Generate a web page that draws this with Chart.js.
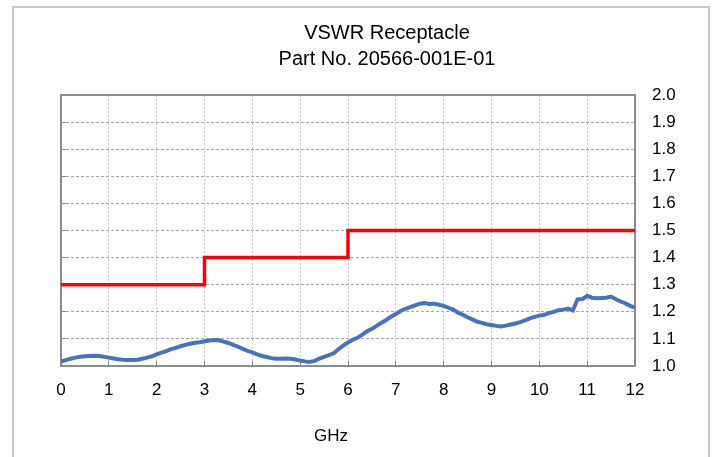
<!DOCTYPE html>
<html>
<head>
<meta charset="utf-8">
<title>VSWR Receptacle</title>
<script src="https://cdn.jsdelivr.net/npm/chart.js@4"></script>
<style>
    html, body { margin: 0; padding: 0; background: #fff; overflow: hidden; }
    #frame { position: absolute; left: 12px; top: 6px; width: 698px; height: 480px; border: 2px solid #c8c8c8; box-sizing: border-box; }
    #chart { position: absolute; left: 0; top: 0; }
</style>
</head>
<body>
<div id="frame"></div>
<canvas id="chart" width="713" height="457"></canvas>
<script>
// VSWR sweep of the receptacle
const freqGHz = [
    0.0, 0.1, 0.2, 0.3, 0.4, 0.5, 0.6, 0.7, 0.8, 0.9,
    1.0, 1.1, 1.2, 1.3, 1.4, 1.5, 1.6, 1.7, 1.8, 1.9,
    2.0, 2.1, 2.2, 2.3, 2.4, 2.5, 2.6, 2.7, 2.8, 2.9,
    3.0, 3.1, 3.2, 3.3, 3.4, 3.5, 3.6, 3.7, 3.8, 3.9,
    4.0, 4.1, 4.2, 4.3, 4.4, 4.5, 4.6, 4.7, 4.8, 4.9,
    5.0, 5.1, 5.2, 5.3, 5.4, 5.5, 5.6, 5.7, 5.8, 5.9,
    6.0, 6.1, 6.2, 6.3, 6.4, 6.5, 6.6, 6.7, 6.8, 6.9,
    7.0, 7.1, 7.2, 7.3, 7.4, 7.5, 7.6, 7.7, 7.8, 7.9,
    8.0, 8.1, 8.2, 8.3, 8.4, 8.5, 8.6, 8.7, 8.8, 8.9,
    9.0, 9.1, 9.2, 9.3, 9.4, 9.5, 9.6, 9.7, 9.8, 9.9,
    10.0, 10.1, 10.2, 10.3, 10.4, 10.5, 10.6, 10.7, 10.8, 10.9,
    11.0, 11.1, 11.2, 11.3, 11.4, 11.5, 11.6, 11.7, 11.8, 11.9,
    12.0
];
const vswrMeasured = [
    1.016, 1.022, 1.027, 1.031, 1.034, 1.036, 1.037, 1.038, 1.037, 1.034,
    1.031, 1.028, 1.025, 1.023, 1.022, 1.022, 1.023, 1.027, 1.031, 1.036,
    1.043, 1.049, 1.055, 1.062, 1.067, 1.073, 1.078, 1.082, 1.086, 1.088,
    1.091, 1.094, 1.096, 1.095, 1.090, 1.085, 1.078, 1.071, 1.063, 1.056,
    1.050, 1.043, 1.037, 1.033, 1.029, 1.027, 1.027, 1.028, 1.027, 1.024,
    1.020, 1.017, 1.015, 1.019, 1.027, 1.034, 1.040, 1.047, 1.062, 1.075,
    1.087, 1.097, 1.104, 1.116, 1.128, 1.137, 1.148, 1.160, 1.170, 1.182,
    1.192, 1.203, 1.211, 1.217, 1.224, 1.230, 1.232, 1.229, 1.230, 1.226,
    1.222, 1.215, 1.208, 1.197, 1.189, 1.180, 1.172, 1.164, 1.159, 1.154,
    1.151, 1.148, 1.146, 1.149, 1.153, 1.157, 1.162, 1.168, 1.176, 1.181,
    1.186, 1.189, 1.195, 1.200, 1.206, 1.208, 1.212, 1.205, 1.246, 1.247,
    1.259, 1.252, 1.250, 1.251, 1.252, 1.256, 1.246, 1.238, 1.231, 1.222,
    1.215
];

// spec limit, stepped
const limitFreq = [0, 3, 6, 12];
const limitVswr = [1.3, 1.4, 1.5, 1.5];

const titleLines = ['VSWR Receptacle', 'Part No. 20566-001E-01'];
const xLabel = 'GHz';
const xMin = 0, xMax = 12, xStep = 1;
const yMin = 1.0, yMax = 2.0, yStep = 0.1;

const FONT = "'Liberation Sans', Arial, sans-serif";

// x axis caption sits a bit left of the plot centre in the original
const xCaption = {
    id: 'xCaption',
    afterDraw(chart) {
        const { ctx, chartArea } = chart;
        ctx.save();
        ctx.font = '17px ' + FONT;
        ctx.fillStyle = '#000';
        ctx.textAlign = 'center';
        ctx.textBaseline = 'middle';
        ctx.fillText(xLabel, chartArea.left + 270, chartArea.bottom + 70);
        ctx.restore();
    }
};

function pts(xs, ys) {
    return xs.map((x, i) => ({ x: x, y: ys[i] }));
}

new Chart(document.getElementById('chart'), {
    type: 'line',
    data: {
        datasets: [
            {
                label: 'VSWR',
                data: pts(freqGHz, vswrMeasured),
                borderColor: '#4472c4',
                borderWidth: 4,
                pointRadius: 0,
                tension: 0
            },
            {
                label: 'Limit',
                data: pts(limitFreq, limitVswr),
                borderColor: '#ff0000',
                borderWidth: 3.5,
                pointRadius: 0,
                stepped: true
            }
        ]
    },
    plugins: [xCaption],
    options: {
        responsive: false,
        devicePixelRatio: 1,
        animation: false,
        layout: { padding: { left: 61, right: 0, top: 0, bottom: 0 } },
        plugins: {
            legend: { display: false },
            tooltip: { enabled: false },
            title: {
                display: true,
                text: titleLines,
                color: '#000',
                font: { family: FONT, size: 20, weight: 'normal', lineHeight: 1.3 },
                padding: { top: 20, bottom: 23 }
            }
        },
        scales: {
            x: {
                type: 'linear',
                position: 'bottom',
                min: xMin, max: xMax,
                ticks: { stepSize: xStep, color: '#000', padding: 19, font: { family: FONT, size: 17 } },
                grid: { color: '#c8c8c8', tickColor: '#888', tickLength: -5, tickBorderDash: [] },
                border: { display: true, color: '#8c8c8c', width: 2, dash: [2, 2] },
                afterFit(s) { s.height = 91; }
            },
            xTop: {
                type: 'linear',
                position: 'top',
                min: xMin, max: xMax,
                ticks: { display: false },
                grid: { drawOnChartArea: false, drawTicks: false },
                border: { display: true, color: '#8c8c8c', width: 2 },
                afterFit(s) { s.height = 0; }
            },
            y: {
                type: 'linear',
                position: 'right',
                min: yMin, max: yMax,
                ticks: {
                    stepSize: yStep, color: '#000', padding: 17,
                    font: { family: FONT, size: 17 },
                    callback: v => v.toFixed(1)
                },
                grid: { color: '#a8a8a8', drawTicks: false },
                border: { display: true, color: '#8c8c8c', width: 2, dash: [3, 2] },
                afterFit(s) { s.width = 78; }
            },
            yLeft: {
                type: 'linear',
                position: 'left',
                min: yMin, max: yMax,
                ticks: { display: false, stepSize: yStep },
                grid: { drawOnChartArea: false, tickColor: '#888', tickLength: -5, tickBorderDash: [] },
                border: { display: true, color: '#8c8c8c', width: 2 },
                afterFit(s) { s.width = 0; }
            }
        }
    }
});
</script>
</body>
</html>
